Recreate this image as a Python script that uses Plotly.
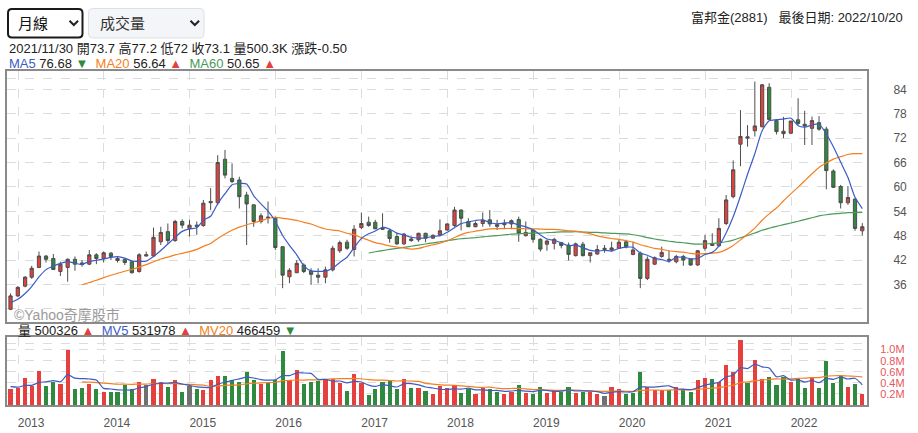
import numpy as np
import pandas as pd
import plotly.graph_objects as go

# -------------------------------------------------
# 1) 富邦金(2881) 月線資料 2012/11 ~ 2022/10
# -------------------------------------------------
opens = [29.9, 33.2, 35.6, 37.8, 40.2, 43.0, 42.4, 39.2, 40.2, 42.2,
         41.3, 41.0, 43.3, 42.4, 43.7, 42.4, 42.2, 41.6, 39.2, 43.0,
         43.0, 46.5, 49.0, 46.8, 51.5, 49.8, 50.6, 50.5, 56.1, 56.1,
         66.8, 62.1, 61.7, 58.0, 55.6, 51.5, 52.6, 52.3, 45.3, 37.9,
         38.9, 40.8, 39.3, 38.3, 37.8, 39.6, 44.3, 46.4, 44.6, 50.0,
         51.3, 51.3, 49.9, 49.2, 47.8, 46.0, 47.2, 47.0, 48.6, 47.4,
         48.2, 49.4, 50.5, 54.3, 51.5, 50.2, 51.0, 51.9, 50.3, 50.7,
         50.9, 52.0, 48.0, 49.4, 47.1, 45.9, 46.1, 46.3, 45.7, 43.1,
         45.9, 43.1, 43.5, 44.9, 44.5, 44.9, 46.5, 43.4, 43.7, 37.5,
         41.0, 42.9, 42.2, 41.6, 42.9, 42.3, 40.8, 44.9, 46.1, 45.5,
         51.0, 57.6, 70.5, 72.0, 73.8, 74.8, 84.5, 76.3, 73.7, 73.2,
         76.5, 75.4, 74.4, 75.8, 74.2, 63.9, 60.1, 56.1, 57.0, 49.2]
highs = [33.8, 35.6, 38.1, 40.6, 44.1, 43.2, 43.5, 41.6, 42.4, 42.9,
         42.0, 44.5, 43.7, 44.1, 44.0, 43.0, 42.4, 42.0, 43.7, 44.1,
         50.0, 50.2, 51.0, 51.9, 52.0, 51.9, 51.5, 56.8, 59.7, 67.8,
         69.1, 65.8, 62.5, 58.8, 55.6, 53.5, 56.4, 52.7, 45.3, 40.0,
         42.0, 41.2, 40.0, 40.0, 40.4, 45.5, 46.8, 47.0, 50.6, 53.7,
         52.7, 51.9, 53.5, 49.6, 48.7, 48.7, 47.8, 48.7, 48.7, 48.3,
         52.0, 51.0, 55.1, 54.5, 52.3, 51.5, 53.7, 54.3, 51.9, 52.0,
         52.0, 52.7, 51.5, 49.6, 47.4, 47.1, 47.5, 46.5, 46.3, 46.3,
         46.5, 43.8, 45.7, 45.7, 46.5, 47.0, 47.0, 46.5, 44.1, 42.9,
         42.9, 45.3, 44.3, 43.3, 43.3, 42.3, 44.5, 48.2, 48.6, 52.3,
         58.0, 66.5, 78.9, 75.2, 85.9, 85.3, 85.5, 76.6, 77.2, 76.2,
         81.8, 78.7, 77.3, 77.4, 74.8, 64.3, 60.5, 60.2, 57.2, 51.1]
lows = [29.7, 32.9, 35.3, 37.4, 40.0, 41.4, 39.6, 38.1, 36.7, 39.4,
        40.4, 40.8, 41.0, 41.4, 42.0, 41.4, 40.8, 38.7, 38.9, 42.9,
        42.9, 45.7, 46.0, 46.5, 49.8, 47.8, 48.2, 50.2, 54.3, 55.5,
        62.1, 60.9, 54.7, 45.7, 50.2, 51.0, 51.0, 44.5, 35.1, 36.3,
        38.8, 38.8, 35.9, 36.3, 36.3, 39.2, 43.8, 44.5, 42.9, 49.6,
        50.2, 49.6, 49.4, 46.3, 45.7, 45.7, 46.5, 46.5, 46.4, 47.2,
        47.8, 49.2, 50.2, 49.3, 50.2, 50.1, 50.2, 50.2, 49.4, 49.6,
        49.6, 46.5, 47.8, 46.3, 44.1, 44.3, 44.6, 44.9, 41.9, 42.9,
        42.9, 41.4, 43.3, 43.8, 44.1, 44.7, 44.9, 43.2, 35.1, 37.1,
        40.8, 42.6, 41.4, 41.2, 40.6, 40.6, 40.6, 44.3, 45.5, 45.3,
        50.6, 57.2, 65.1, 69.9, 72.4, 74.6, 76.5, 72.9, 72.0, 73.0,
        75.2, 70.3, 70.3, 73.8, 59.4, 59.7, 54.7, 55.6, 49.2, 48.0]
closes = [33.2, 35.3, 37.8, 40.0, 43.0, 42.2, 39.7, 41.0, 42.2, 41.0,
          40.9, 43.3, 42.4, 43.8, 42.9, 41.9, 41.4, 38.9, 43.3, 43.3,
          47.6, 48.8, 46.8, 51.5, 50.6, 50.6, 50.3, 56.0, 56.4, 66.0,
          62.9, 61.3, 57.6, 55.8, 51.5, 52.9, 52.4, 45.1, 38.3, 39.5,
          41.2, 39.2, 38.5, 37.8, 39.6, 44.9, 46.3, 44.9, 49.6, 51.0,
          50.5, 49.7, 49.6, 47.3, 46.0, 48.4, 46.8, 48.6, 47.4, 48.1,
          49.2, 50.9, 54.3, 52.3, 50.2, 51.0, 51.8, 50.9, 50.7, 51.1,
          51.7, 48.6, 48.8, 47.1, 44.7, 46.7, 47.1, 45.6, 43.4, 46.0,
          43.1, 43.8, 44.6, 44.6, 45.0, 46.4, 45.3, 44.5, 37.5, 42.2,
          42.6, 43.9, 42.0, 42.9, 42.0, 40.8, 44.3, 46.8, 45.6, 49.8,
          56.8, 64.2, 72.4, 72.3, 75.0, 85.1, 76.6, 73.6, 73.1, 76.2,
          75.6, 75.0, 76.3, 74.2, 64.0, 59.9, 56.1, 57.4, 49.8, 50.2]
# 成交量(千)
volumes_k = [289, 307, 487, 343, 614, 343, 415, 379, 993, 289,
             307, 379, 289, 235, 235, 235, 361, 289, 415, 361,
             469, 415, 325, 451, 235, 343, 289, 271, 451, 523,
             523, 451, 415, 596, 451, 379, 397, 451, 975, 451,
             632, 379, 415, 433, 451, 469, 397, 253, 560, 397,
             181, 289, 415, 451, 289, 469, 307, 307, 253, 199,
             343, 307, 361, 217, 289, 199, 307, 289, 235, 199,
             235, 361, 217, 199, 325, 217, 271, 235, 325, 217,
             235, 235, 199, 162, 325, 289, 199, 217, 596, 325,
             271, 271, 271, 325, 289, 235, 451, 487, 469, 415,
             722, 596, 1161, 397, 812, 469, 505, 361, 500.326, 415,
             487, 307, 505, 307, 794, 397, 523, 325, 379, 199]
# 圖表起點之前 9 個月 (均線計算用)
pre_closes = [32.0, 31.5, 30.8, 31.2, 32.5, 31.0, 30.6, 31.5, 31.2]
pre_volumes_k = [460, 480, 420, 430, 440, 350, 330, 340, 346]

year_ticks = ["2013", "2014", "2015", "2016", "2017",
              "2018", "2019", "2020", "2021", "2022"]
price_ticks = [36, 42, 48, 54, 60, 66, 72, 78, 84]
vol_ticks = [0.2, 0.4, 0.6, 0.8, 1.0]

dates = pd.date_range("2012-11-30", periods=len(closes), freq="ME")

# -------------------------------------------------
# 2) 均線
# -------------------------------------------------
npre = len(pre_closes)
all_c = pd.Series(pre_closes + closes)
all_v = pd.Series([v * 1000 for v in pre_volumes_k + volumes_k])
ma5 = all_c.rolling(5).mean().to_numpy()[npre:]
ma20 = all_c.rolling(20).mean().to_numpy()[npre:]
ma60 = all_c.rolling(60).mean().to_numpy()[npre:]
mv5 = all_v.rolling(5).mean().to_numpy()[npre:]
mv20 = all_v.rolling(20).mean().to_numpy()[npre:]
volumes = all_v.to_numpy()[npre:]

RED, GREEN, GRAY = "#e5403d", "#2f8a3f", "#707070"
C_MA5, C_MA20, C_MA60 = "#3b5cc4", "#f57f20", "#4a9a5a"

diff = np.round(all_c.diff().to_numpy()[npre:], 2)
vol_colors = [RED if d > 0 else GREEN if d < 0 else GRAY for d in diff]

# -------------------------------------------------
# 3) 版面 (像素 -> paper 座標)
# -------------------------------------------------
W, H = 918, 433
L, R, T, B = 7, 867, 71, 405


def fx(x):
    return (x - L) / (R - L)


def fy(y):
    return (B - y) / (B - T)


fig = go.Figure()
fig.add_trace(go.Candlestick(
    x=dates, open=opens, high=highs, low=lows, close=closes,
    increasing=dict(fillcolor=RED, line=dict(color="#4d4d4d", width=1)),
    decreasing=dict(fillcolor=GREEN, line=dict(color="#4d4d4d", width=1)),
    whiskerwidth=0, hoverinfo="skip", xaxis="x", yaxis="y"))
for vals, clr in [(ma60, C_MA60), (ma20, C_MA20), (ma5, C_MA5)]:
    fig.add_trace(go.Scatter(x=dates, y=vals, mode="lines",
                             line=dict(color=clr, width=1.2, shape="spline", smoothing=0.6),
                             hoverinfo="skip", xaxis="x", yaxis="y"))

fig.add_trace(go.Bar(x=dates, y=volumes, marker=dict(color=vol_colors, line=dict(width=0)),
                     width=18 * 86400000, hoverinfo="skip", xaxis="x2", yaxis="y2"))
for vals, clr in [(mv20, C_MA20), (mv5, C_MA5)]:
    fig.add_trace(go.Scatter(x=dates, y=vals, mode="lines",
                             line=dict(color=clr, width=1.2, shape="spline", smoothing=0.6),
                             hoverinfo="skip", xaxis="x2", yaxis="y2"))

xr = ["2012-11-15", "2022-11-20"]
year_vals = [f"{y}-01-01" for y in year_ticks]
grid = dict(gridcolor="#dcdcdc", griddash="dash", gridwidth=1,
            showline=True, mirror=True, linecolor="#8a8a8a", linewidth=2,
            zeroline=False, fixedrange=True, automargin=False)

fig.update_layout(
    width=W, height=H,
    margin=dict(l=L, r=W - R, t=T, b=H - B, autoexpand=False),
    paper_bgcolor="white", plot_bgcolor="white",
    showlegend=False,
    font=dict(family="Liberation Sans, Noto Sans CJK TC", size=13, color="#222"),
    xaxis=dict(type="date", range=xr, domain=[0, 1], anchor="y",
               tickvals=year_vals, showticklabels=False,
               rangeslider=dict(visible=False), **grid),
    yaxis=dict(domain=[fy(322), 1], range=[26.78, 88.5], side="right",
               tickvals=[30] + price_ticks + [86.66],
               ticktext=[""] + [str(v) for v in price_ticks] + [""],
               ticklabelstandoff=22, tickfont=dict(size=12, color="#555"), **grid),
    xaxis2=dict(type="date", range=xr, domain=[0, 1], anchor="y2", matches="x",
                tickvals=year_vals, ticktext=year_ticks,
                ticklabelshift=13, ticklabelstandoff=6,
                tickfont=dict(size=12, color="#555"), **grid),
    yaxis2=dict(domain=[0, fy(337.3)], range=[0, 1.222e6], side="right",
                tickvals=[v * 1e6 for v in vol_ticks] + [1.114e6],
                ticktext=[f"{v:.1f}M" for v in vol_ticks] + [""],
                ticklabelstandoff=9, tickfont=dict(size=11, color="#e8565a"), **grid),
    bargap=0,
)

# -------------------------------------------------
# 4) 文字 / 選單
# -------------------------------------------------
def note(x, y, text, size=13, color="#222", anchor="left"):
    fig.add_annotation(x=fx(x), y=fy(y), xref="paper", yref="paper", text=text,
                       showarrow=False, xanchor=anchor, yanchor="middle",
                       font=dict(size=size, color=color))


def span(t, c):
    return f"<span style='color:{c}'>{t}</span>"


UP, DN = span("▲", RED), span("▼", GREEN)
note(905, 18, "富邦金(2881)   最後日期: 2022/10/20", anchor="right")
note(7, 48, "2021/11/30 開73.7 高77.2 低72 收73.1 量500.3K 漲跌-0.50")
note(7, 63, f"{span('MA5', C_MA5)} 76.68 {DN}  {span('MA20', C_MA20)} 56.64 {UP}  "
            f"{span('MA60', C_MA60)} 50.65 {UP}")
note(16, 330, f"量 500326 {UP}  {span('MV5', C_MA5)} 531978 {UP}  "
              f"{span('MV20', C_MA20)} 466459 {DN}")
note(12, 315, "©Yahoo奇摩股市", size=14, color="#9a9a9a")


def rrect(x0, y0, x1, y1, r=4):
    pts = (f"M {fx(x0 + r)},{fy(y0)} L {fx(x1 - r)},{fy(y0)} Q {fx(x1)},{fy(y0)} {fx(x1)},{fy(y0 + r)} "
           f"L {fx(x1)},{fy(y1 - r)} Q {fx(x1)},{fy(y1)} {fx(x1 - r)},{fy(y1)} "
           f"L {fx(x0 + r)},{fy(y1)} Q {fx(x0)},{fy(y1)} {fx(x0)},{fy(y1 - r)} "
           f"L {fx(x0)},{fy(y0 + r)} Q {fx(x0)},{fy(y0)} {fx(x0 + r)},{fy(y0)} Z")
    return pts


fig.add_shape(type="path", path=rrect(8, 9, 82.5, 37.5), xref="paper", yref="paper",
              line=dict(color="#1a1a1a", width=2), fillcolor="white")
fig.add_shape(type="path", path=rrect(88.5, 8.5, 204, 38), xref="paper", yref="paper",
              line=dict(color="#dde0e4", width=1), fillcolor="#f3f5f8")
for cx in (73.8, 194.8):
    fig.add_shape(type="path", xref="paper", yref="paper",
                  path=f"M {fx(cx - 4.3)},{fy(20.8)} L {fx(cx)},{fy(25)} L {fx(cx + 4.3)},{fy(20.8)}",
                  line=dict(color="#222", width=2))
note(16, 23.5, "月線", size=15, color="#111")
note(97.5, 23.5, "成交量", size=15, color="#333")

# 頁面預設 body 邊距歸零，讓圖從左上角開始；關掉工具列以免蓋住右上角文字
fig.write_html("out.html", config={"displayModeBar": False},
               post_script="document.body.style.margin='0px';")
